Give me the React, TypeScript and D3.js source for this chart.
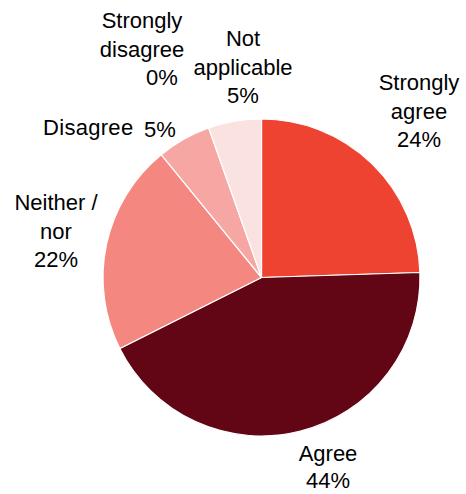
import React from "react";
import * as d3 from "d3";

const categories = ["Strongly agree", "Agree", "Neither / nor", "Disagree", "Strongly disagree", "Not applicable"];
const values = [24.5, 43.1, 21.5, 5.5, 0, 5.4];
const percentLabels = ["24%", "44%", "22%", "5%", "0%", "5%"];
const colors = ["#EE4330", "#620515", "#F4877F", "#F6A7A3", "#F0C0BC", "#FAE2E1"];

// label line layout (text lines per category)
const labelLines: string[][] = [
  ["Strongly", "agree", "24%"],
  ["Agree", "44%"],
  ["Neither /", "nor", "22%"],
  ["Disagree"],
  ["Strongly", "disagree", "0%"],
  ["Not", "applicable", "5%"],
];
const labelAnchor: { x: number; y: number; anchor: string }[] = [
  { x: 419, y: 90, anchor: "middle" },
  { x: 328, y: 461, anchor: "middle" },
  { x: 56, y: 210, anchor: "middle" },
  { x: 43, y: 135, anchor: "start" },
  { x: 142, y: 28, anchor: "middle" },
  { x: 243, y: 46, anchor: "middle" },
];
const LINE_H = 28.5;

export default function App() {
  const W = 466, H = 494;
  const cx = 261.5, cy = 277.5, R = 158.5;
  const pie = d3.pie<number>().sort(null).value((d) => d).startAngle(0).endAngle(2 * Math.PI);
  const arcs = pie(values);
  const arc = d3.arc<d3.PieArcDatum<number>>().innerRadius(0).outerRadius(R);
  const font = "'Liberation Sans', Arial, sans-serif";
  return (
    <svg width={W} height={H} style={{ position: "absolute", left: 0, top: 0 }} xmlns="http://www.w3.org/2000/svg">
      <rect width={W} height={H} fill="#fff" />
      <g transform={`translate(${cx},${cy})`}>
        {arcs.map((a, i) =>
          a.endAngle - a.startAngle > 0 ? (
            <path key={i} d={arc(a) || ""} fill={colors[i]} stroke="#fff" strokeWidth={1.2} strokeLinejoin="round" />
          ) : null
        )}
      </g>
      <g fontFamily={font} fontSize={22} fill="#000">
        {categories.map((c, i) => {
          const pos = labelAnchor[i];
          if (i === 4) {
            return (
              <g key={c}>
                <text x={pos.x} y={pos.y} textAnchor="middle">{labelLines[i][0]}</text>
                <text x={pos.x} y={pos.y + LINE_H} textAnchor="middle">{labelLines[i][1]}</text>
                <text x={pos.x + 20} y={pos.y + 2 * LINE_H} textAnchor="middle">{percentLabels[i]}</text>
              </g>
            );
          }
          if (i === 3) {
            return (
              <g key={c}>
                <text x={pos.x} y={pos.y} textAnchor="start" letterSpacing={0.3}>{labelLines[i][0]}</text>
                <text x={pos.x + 101} y={pos.y + 2} textAnchor="start">{percentLabels[i]}</text>
              </g>
            );
          }
          const lh = i === 1 ? 27 : LINE_H;
          return (
            <text key={c} textAnchor={pos.anchor}>
              {labelLines[i].map((l, j) => (
                <tspan key={j} x={pos.x} y={pos.y + j * lh}>{l}</tspan>
              ))}
            </text>
          );
        })}
      </g>
    </svg>
  );
}
